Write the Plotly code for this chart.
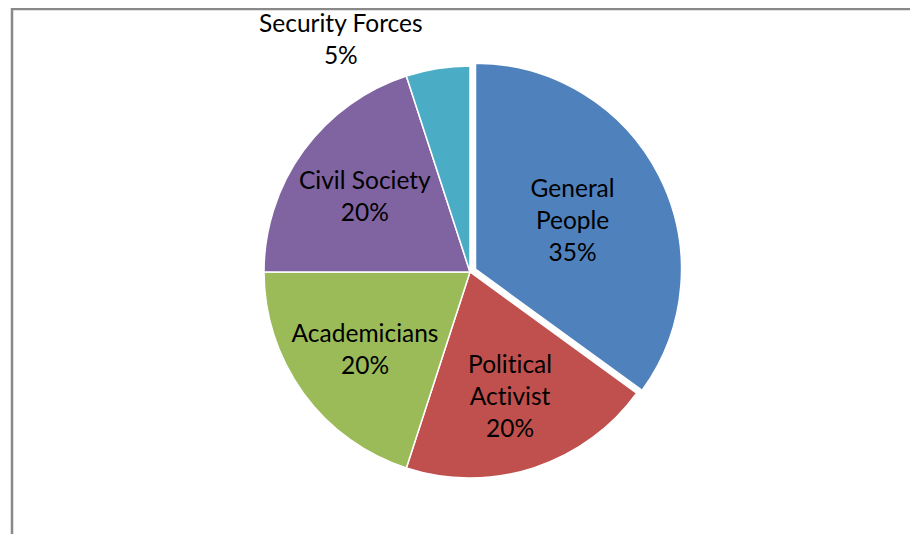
import plotly.graph_objects as go

labels = ["General People", "Political Activist", "Academicians", "Civil Society", "Security Forces"]
text_labels = ["General<br>People", "Political<br>Activist", "Academicians", "Civil Society", "Security Forces"]
values = [35, 20, 20, 20, 5]
colors = ["#4F81BD", "#C0504D", "#9BBB59", "#8064A2", "#4BACC6"]
pulls = [0.03, 0, 0, 0, 0]

# page body has an 8px margin, so figure coords are offset by 8px
W, H = 910, 526
cx, cy, r = 462, 264, 206 * 1.03

fig = go.Figure(go.Pie(
    labels=labels,
    values=values,
    text=[f"{t}<br>{v}%" for t, v in zip(text_labels, values)],
    textinfo="text",
    textposition=["inside", "inside", "inside", "inside", "outside"],
    insidetextorientation="horizontal",
    marker=dict(colors=colors, line=dict(color="white", width=1.5)),
    pull=pulls,
    sort=False,
    direction="clockwise",
    rotation=0,
    textfont=dict(family="Lato", size=24.5, color="black"),
    outsidetextfont=dict(family="Lato", size=24.5, color="black"),
    showlegend=False,
    automargin=False,
    domain=dict(x=[(cx - r) / W, (cx + r) / W], y=[(H - cy - r) / H, (H - cy + r) / H]),
    hoverinfo="label+percent",
))

fig.add_shape(type="rect", xref="paper", yref="paper",
              x0=4 / W, x1=1.05, y0=-0.05, y1=1 - 1 / H,
              line=dict(color="#898989", width=2.5), layer="below")

fig.update_layout(
    width=W, height=H,
    margin=dict(l=0, r=0, t=0, b=0),
    paper_bgcolor="white", plot_bgcolor="white",
    uniformtext=dict(minsize=24, mode="show"),
)

no_ligatures = (
    "var s=document.createElement('style');"
    "s.innerHTML='text,tspan{font-variant-ligatures:none !important;"
    "font-feature-settings:\"liga\" 0, \"clig\" 0 !important;}';"
    "document.head.appendChild(s);"
)

fig.write_html("out.html", post_script=no_ligatures)
